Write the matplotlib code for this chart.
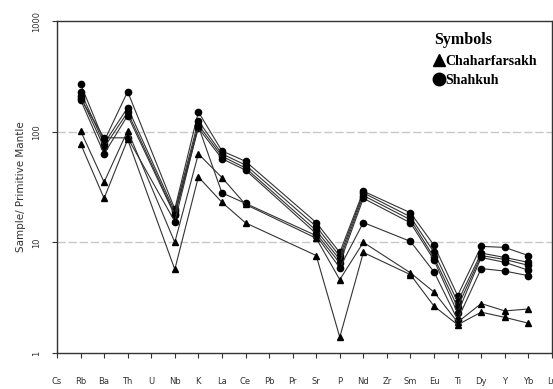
import numpy as np
import matplotlib.pyplot as plt
from matplotlib.lines import Line2D

# -------- DATA --------
elements = ["Cs", "Rb", "Ba", "Th", "U", "Nb", "K", "La", "Ce", "Pb", "Pr",
            "Sr", "P", "Nd", "Zr", "Sm", "Eu", "Ti", "Dy", "Y", "Yb", "Lu"]
nan = np.nan

# Shahkuh samples (circles)
shahkuh_1 = [nan, 270, 82, 230, nan, 20, 151, 67, 54, nan, nan, 15.1, 8.1, 29, nan, 18.5, 9.4, 3.3, 9.2, 9.0, 7.6, nan]
shahkuh_2 = [nan, 230, 78, 165, nan, 19, 125, 63, 50, nan, nan, 13.9, 7.5, 28, nan, 17, 8.1, 2.9, 8.0, 7.3, 6.6, nan]
shahkuh_3 = [nan, 210, 72, 150, nan, 18, 115, 60, 47, nan, nan, 12.8, 7.0, 26.5, nan, 16, 7.3, 2.6, 7.6, 7.0, 6.2, nan]
shahkuh_4 = [nan, 195, 63, 140, nan, 17.5, 108, 57, 45, nan, nan, 12.0, 6.5, 25, nan, 15, 6.9, 2.3, 7.3, 6.6, 5.6, nan]
shahkuh_5 = [nan, 200, 88, 88, nan, 15.4, 112, 28, 22.5, nan, nan, 11.5, 5.9, 15.1, nan, 10.2, 5.4, 2.0, 5.8, 5.5, 5.0, nan]

# Chaharfarsakh samples (triangles)
chahar_1 = [nan, 102, 35, 102, nan, 10, 63, 38.5, 22, nan, nan, 10.9, 4.6, 10, nan, 5.3, 3.55, 1.9, 2.8, 2.4, 2.5, nan]
chahar_2 = [nan, 78, 25, 85, nan, 5.7, 39, 23, 15, nan, nan, 7.6, 1.39, 8.1, nan, 5.1, 2.65, 1.8, 2.34, 2.1, 1.86, nan]

shahkuh = [shahkuh_1, shahkuh_2, shahkuh_3, shahkuh_4, shahkuh_5]
chahar = [chahar_1, chahar_2]

x = np.arange(len(elements))

# -------- PLOT --------
fig = plt.figure(figsize=(5.53, 3.89), dpi=100)
ax = fig.add_axes([0.103, 0.0925, 0.895, 0.8535])

def draw(series, marker):
    vals = np.array(series, dtype=float)
    ok = ~np.isnan(vals)
    ax.plot(x[ok], vals[ok], color='#333333', lw=0.8, marker=marker,
            markersize=4.5, markerfacecolor='black', markeredgecolor='black')

for s in shahkuh:
    draw(s, 'o')
for s in chahar:
    draw(s, '^')

ax.set_yscale('log')
ax.set_ylim(1, 1000)
ax.set_xlim(0, 21)
ax.set_xticks(x)
ax.set_xticklabels(elements, fontsize=6, color='#333333')
ax.set_yticks([1, 10, 100, 1000])
ax.set_yticklabels(['1', '10', '100', '1000'], fontsize=6, color='#333333',
                   rotation=90, va='center')
ax.yaxis.set_minor_locator(plt.NullLocator())
ax.tick_params(axis='x', length=3.5, pad=14, color='#333333')
ax.tick_params(axis='y', length=3.5, pad=8, color='#333333')
for sp in ax.spines.values():
    sp.set_color('#333333')
    sp.set_linewidth(1.0)

for yv in [10, 100]:
    ax.axhline(yv, color='#c8c8c8', lw=1.0, ls=(0, (6, 2)), zorder=0)

ax.set_ylabel("Sample/ Primitive Mantle", fontsize=7.5, color='#333333', labelpad=4)

handles = [Line2D([], [], ls='none', marker='^', color='black', markersize=9),
           Line2D([], [], ls='none', marker='o', color='black', markersize=9)]
leg = ax.legend(handles, ["Chaharfarsakh", "Shahkuh"], title="Symbols",
                loc='upper right', bbox_to_anchor=(0.99, 0.995), frameon=False,
                prop={'family': 'Liberation Serif', 'weight': 'bold', 'size': 10},
                handletextpad=0.05, handlelength=0.8, labelspacing=0.45,
                borderpad=0.2)
leg.get_title().set_fontproperties({'family': 'Liberation Serif', 'weight': 'bold', 'size': 11.5})
leg._legend_box.align = 'left'

plt.savefig("out.png", dpi=100)
